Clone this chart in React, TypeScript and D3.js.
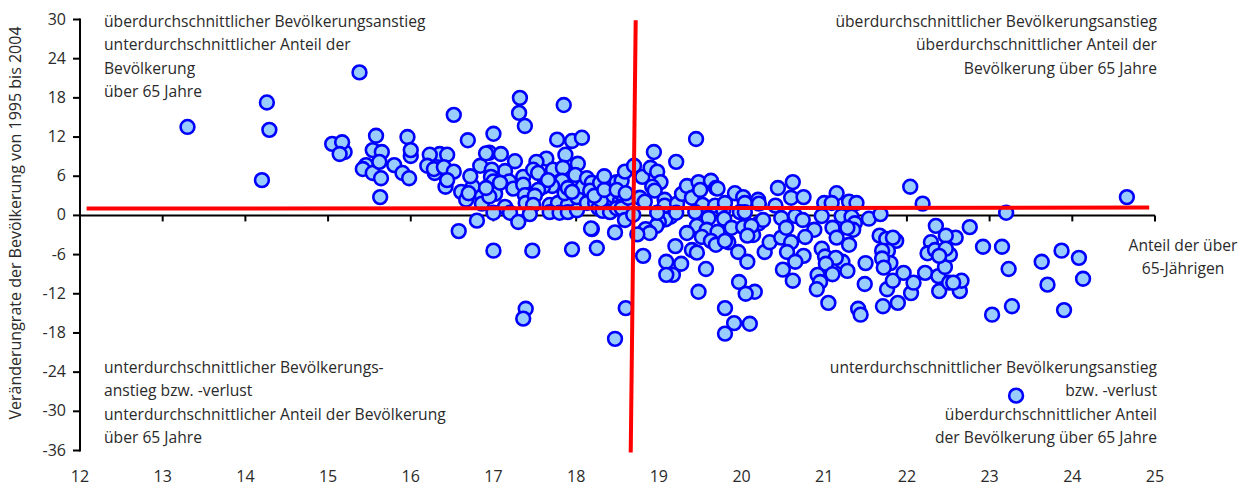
import React from "react";
import * as d3 from "d3";

const W = 1251, H = 487;
const FONT = "'Open Sans', 'Noto Sans', sans-serif";
const xTicks = [12,13,14,15,16,17,18,19,20,21,22,23,24,25];
const yTicks = [30,24,18,12,6,0,-6,-12,-18,-24,-30,-36];
const yAxisTitle = "Veränderungrate der Bevölkerung von 1995 bis 2004";
const xAxisTitle = ["Anteil der über","65-Jährigen"];
const topLeft = ["überdurchschnittlicher Bevölkerungsanstieg","unterdurchschnittlicher Anteil der","Bevölkerung","über 65 Jahre"];
const topRight = ["überdurchschnittlicher Bevölkerungsanstieg","überdurchschnittlicher Anteil der","Bevölkerung über 65 Jahre"];
const bottomLeft = ["unterdurchschnittlicher Bevölkerungs-","anstieg bzw. -verlust","unterdurchschnittlicher Anteil der Bevölkerung","über 65 Jahre"];
const bottomRight = ["unterdurchschnittlicher Bevölkerungsanstieg","bzw. -verlust","überdurchschnittlicher Anteil","der Bevölkerung über 65 Jahre"];

// [Anteil der über 65-Jährigen, Veränderungsrate]
const westPoints: [number,number][] = [
[13.30,13.55],[14.26,17.3],[14.29,13.1],[14.2,5.4],[15.38,21.9],[15.05,10.95],[15.2,9.7],[15.17,11.2],[15.14,9.4],
[15.54,10.0],[15.65,9.7],[15.58,12.2],[15.46,7.7],[15.42,7.1],[15.54,6.5],[15.62,8.2],[15.64,5.7],[15.63,2.8],[15.8,7.7],[15.9,6.5],[15.98,5.7],[16.0,9.1],[15.96,12.0],[16.0,10.0],
[16.52,15.4],[17.32,18.0],[17.31,15.7],[17.38,13.7],[17.85,16.9],[16.69,11.5],[17.0,12.5],[17.77,11.6],[17.95,11.4],[18.07,11.9],
[16.35,9.4],[16.44,9.3],[16.23,9.3],[16.2,7.6],[16.29,6.5],[16.28,7.1],[16.4,7.4],[16.52,6.7],[16.42,4.4],[16.44,5.4],[16.61,3.6],[16.67,2.4],[16.75,4.4],[16.72,6.0],[16.7,3.4],
[16.84,7.6],[16.95,9.6],[16.91,9.5],[17.09,9.4],[17.26,8.3],[17.14,6.8],[16.98,7.0],[16.97,5.9],[17.0,5.2],[17.02,3.3],[16.86,2.9],[16.86,1.8],[16.95,2.9],[16.91,4.2],[17.19,5.2],[17.24,4.1],[17.08,5.0],[17.36,5.9],[17.36,4.7],
[17.64,8.7],[17.52,8.2],[17.87,9.3],[17.72,7.0],[17.48,7.0],[17.84,7.3],[18.02,7.9],[17.99,6.2],[17.83,5.3],[17.71,4.5],[17.6,4.4],[17.54,6.5],[17.66,5.4],[17.54,3.9],[17.42,3.1],[17.38,3.1],[17.39,1.9],[17.5,3.0],
[17.48,1.6],[17.68,1.6],[17.78,1.9],[17.9,1.6],[17.14,1.3],[17.0,0.4],[17.2,0.4],[17.44,0.2],[17.68,0.5],[17.8,0.4],[17.9,0.5],[18.01,0.8],[18.01,2.8],[17.86,3.4],[17.9,4.2],[18.08,4.4],[17.95,3.6],[18.13,5.7],[18.19,5.0],[18.17,3.8],[18.13,1.9],[18.23,1.9],[18.27,1.1],[18.32,0.7],[18.41,0.5],[18.41,2.7],[18.3,2.3],[18.22,3.0],[18.45,3.0],[18.53,2.2],[18.55,3.3],[18.29,5.0],[18.38,4.4],[18.34,3.9],[18.34,6.0],[18.49,5.1],[18.55,5.3],[18.49,3.9],[18.59,6.7],[18.49,1.1],[18.55,1.1],[18.63,2.7],[18.6,3.4],[18.59,-0.7],
[16.58,-2.4],[16.8,-0.8],[17.3,-1.0],[17.0,-5.4],[17.47,-5.4],[17.95,-5.2],[18.25,-5.0],[18.19,-2.1],[18.18,-2.0],[18.47,-2.6],[18.81,-6.2],[19.14,-0.2],[19.08,-0.6],[19.0,-1.0],[18.97,-1.6],[18.84,-2.1],[18.89,-2.7],[18.74,-2.9],[17.39,-14.3],[17.36,-15.8],[18.6,-14.2],[18.47,-18.9],
];

const centerPoints: [number,number][] = [
[18.69,0.1],[18.7,7.6],[18.8,5.9],[18.77,2.7],[18.83,2.1],[18.9,7.3],[18.98,6.7],[18.94,9.7],[19.21,8.2],[19.45,11.7],[19.02,5.1],[18.92,4.4],[18.95,3.8],[19.07,2.4],[19.07,1.5],[18.98,0.4],[19.22,1.8],[19.28,3.3],[19.34,4.5],[19.4,2.7],[19.48,5.1],[19.63,5.3],[19.69,4.2],[19.5,3.9],[19.53,1.6],[19.68,1.5],[19.71,4.1],
[19.92,3.4],[20.02,2.8],[20.2,2.4],[20.21,1.8],[20.44,4.2],[20.62,5.1],[20.41,1.5],[20.6,2.7],[20.75,2.8],[19.78,0.8],[19.8,1.9],[20.04,1.9],[19.98,0.5],[20.04,0.5],[19.44,0.5],[19.21,0.4],
[21.0,1.9],[21.15,3.4],[21.09,1.9],[21.3,2.1],[21.39,1.9],[20.97,-0.1],[21.21,-0.1],[21.33,-0.2],[21.54,-0.5],[21.68,0.2],[22.04,4.4],[22.19,1.8],
[20.21,-1.2],[20.26,-0.7],[20.48,-0.4],[20.65,-0.1],[20.74,-0.7],[19.6,-0.4],[19.79,-0.5],[19.88,-1.9],[19.46,-1.6],[19.58,-2.2],[19.71,-2.5],[19.52,-3.3],[19.63,-3.9],[19.69,-4.5],[19.84,-4.1],[19.8,-3.9],[19.34,-2.7],[20.02,-1.8],[20.14,-3.0],[20.12,-1.6],[20.07,-3.1],
];

const southEastPoints: [number,number][] = [
[19.2,-4.7],[19.4,-5.3],[19.46,-5.7],[19.96,-5.6],[20.07,-7.1],[19.09,-7.1],[19.27,-7.4],[19.57,-8.2],[19.17,-9.1],[19.09,-9.1],[19.48,-11.7],[19.97,-10.2],[20.16,-11.7],[20.05,-12.0],[19.8,-14.2],[20.1,-16.6],[19.91,-16.5],[19.8,-18.1],
[20.28,-5.6],[20.34,-4.1],[20.48,-3.4],[20.6,-4.1],[20.55,-5.6],[20.75,-6.2],[20.65,-7.1],[20.5,-8.3],[20.62,-10.0],[20.54,-1.9],[20.88,-2.2],[20.77,-3.3],[21.1,-1.9],[21.15,-3.4],[21.37,-1.2],[21.35,-2.2],[21.28,-1.9],[21.3,-4.5],
[20.97,-5.1],[21.01,-6.3],[21.22,-7.1],[21.14,-6.5],[21.02,-7.4],[21.28,-8.5],[21.1,-9.0],[20.92,-9.1],[20.95,-10.2],[20.91,-11.3],[21.5,-7.3],[21.49,-10.5],[21.05,-13.4],[21.41,-14.3],[21.44,-15.2],[21.71,-13.9],[21.89,-13.4],[21.76,-11.3],[21.83,-10.0],
[21.67,-3.1],[21.87,-3.9],[21.75,-3.6],[21.83,-3.4],[21.77,-5.4],[21.7,-5.4],[21.8,-7.3],[21.7,-6.6],[21.72,-8.0],[21.96,-8.8],
[22.05,-11.9],[22.08,-10.3],[22.22,-8.8],[22.39,-11.6],[22.38,-9.3],[22.64,-11.6],[22.66,-10.0],[22.51,-10.3],[22.56,-10.3],[22.46,-7.9],
[22.35,-1.6],[22.76,-1.8],[22.29,-4.1],[22.25,-5.8],[22.34,-5.3],[22.59,-3.4],[22.47,-3.1],[22.52,-6.0],[22.47,-5.1],[22.39,-6.2],
[22.92,-4.8],[23.15,-4.8],[23.23,-8.2],[23.03,-15.2],[23.27,-13.9],[23.63,-7.1],[23.87,-5.4],[24.08,-6.5],[24.13,-9.7],[23.7,-10.6],[23.9,-14.5],[23.32,-27.6],[23.2,0.4],[24.66,2.8],
];

const hLine: [number,number][] = [[12.08,1.05],[24.93,1.2]];
const vLine: [number,number][] = [[18.72,29.9],[18.66,-36.3]];

const x = d3.scaleLinear().domain([12,25]).range([80,1155]);
const y = d3.scaleLinear().domain([30,-36]).range([19.5,450.5]);
const line = d3.line<[number,number]>().x(d=>x(d[0])).y(d=>y(d[1]));
const INK = "#2a2a2a";
const FS = 15.65;
const TICK_FS = 16;

function Block({lines,px,anchor,top}:{lines:string[];px:number;anchor:"start"|"end"|"middle";top:number}) {
  return <g>{lines.map((t,i)=><text key={i} x={px} y={top+i*23.3} textAnchor={anchor} fontSize={FS} fill={INK}>{t}</text>)}</g>;
}

export default function App() {
  const points = [...westPoints,...centerPoints,...southEastPoints];
  return (
    <svg width={W} height={H} style={{position:"absolute",left:0,top:0,background:"#fff"}} fontFamily={FONT}>
      <path d={`M${x(12)},${y(30)-1}V${y(-36)+1}`} stroke="#000" strokeWidth={2} fill="none"/>
      <path d={`M${x(12)},${y(0)}H${x(25)}`} stroke="#000" strokeWidth={2} fill="none"/>
      {yTicks.map(t=><g key={t}>
        <path d={`M${x(12)-7},${y(t)}H${x(12)}`} stroke="#000" strokeWidth={2}/>
        <text x={66} y={y(t)+5} textAnchor="end" fontSize={TICK_FS} fill={INK}>{t}</text>
      </g>)}
      {xTicks.map(t=><g key={t}>
        <path d={`M${x(t)},${y(0)}v6`} stroke="#000" strokeWidth={2}/>
        <text x={x(t)} y={482} textAnchor="middle" fontSize={TICK_FS} fill={INK}>{t}</text>
      </g>)}
      <text transform="translate(21,223) rotate(-90)" textAnchor="middle" fontSize={TICK_FS} fill={INK}>{yAxisTitle}</text>
      <Block lines={topLeft} px={104} anchor="start" top={27}/>
      <Block lines={topRight} px={1157} anchor="end" top={27}/>
      <Block lines={bottomLeft} px={104} anchor="start" top={373}/>
      <Block lines={bottomRight} px={1157} anchor="end" top={373}/>
      <Block lines={xAxisTitle} px={1183} anchor="middle" top={251}/>
      {points.map((p,i)=><circle key={i} cx={x(p[0])} cy={y(p[1])} r={6.9} fill="#99ccff" stroke="#0000ff" strokeWidth={2.6}/>)}
      <path d={line(hLine)!} stroke="#ff0000" strokeWidth={4} fill="none"/>
      <path d={line(vLine)!} stroke="#ff0000" strokeWidth={4} fill="none"/>
    </svg>
  );
}
